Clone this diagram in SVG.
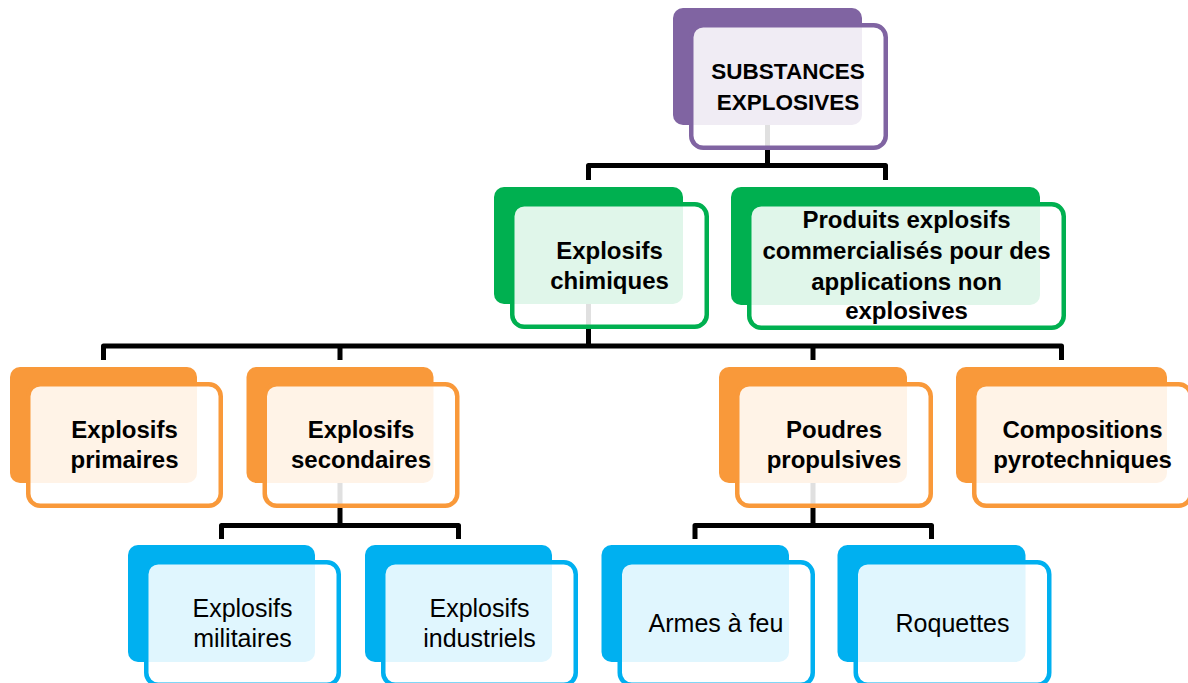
<svg xmlns="http://www.w3.org/2000/svg" width="1188" height="683" viewBox="0 0 1188 683">
<style>
  .conn { fill: none; stroke: #000; stroke-width: 5; stroke-linejoin: round; stroke-linecap: butt; }
  .back { rx: 10; ry: 10; }
  .frame { fill: #fff; fill-opacity: 0.88; stroke-width: 4.5; rx: 12; ry: 12; }
  .purple .back { fill: #8064A2; } .purple .frame { stroke: #8064A2; }
  .green .back { fill: #00B050; } .green .frame { stroke: #00B050; }
  .orange .back { fill: #F9993A; } .orange .frame { stroke: #F9993A; }
  .blue .back { fill: #00B0F0; } .blue .frame { stroke: #00B0F0; }
  text { font-family: "Liberation Sans", Arial, sans-serif; fill: #000; text-anchor: middle; }
  .b { font-weight: bold; font-size: 24px; }
  .r { font-weight: normal; font-size: 25px; }
</style>
<rect width="1188" height="683" fill="#fff"/>
<g id="connectors">
  <path class="conn" d="M767.5,125 V165.5 M588.5,180 V165.5 H885.5 V180"/>
  <path class="conn" d="M588.5,304 V346 M103.5,360 V346 H1061.5 V360 M340,346 V360 M813,346 V360"/>
  <path class="conn" d="M340,483 V525.5 M221.5,539 V525.5 H458.5 V539"/>
  <path class="conn" d="M813,483 V525.5 M695,539 V525.5 H931.5 V539"/>
</g>
<g id="n-root" class="purple">
  <rect class="back" x="673" y="8" width="189" height="117"/>
  <rect class="frame" x="691.25" y="25.25" width="194.5" height="122.5"/>
  <text class="b" style="font-size:22.5px" x="788" y="79">SUBSTANCES</text>
  <text class="b" style="font-size:22.5px" x="788" y="110">EXPLOSIVES</text>
</g>
<g id="n-chimiques" class="green">
  <rect class="back" x="494" y="187" width="189" height="117"/>
  <rect class="frame" x="512.25" y="204.25" width="194.5" height="122.5"/>
  <text class="b" x="609.5" y="259">Explosifs</text>
  <text class="b" x="609.5" y="289">chimiques</text>
</g>
<g id="n-produits" class="green">
  <rect class="back" x="731" y="187" width="309" height="118"/>
  <rect class="frame" x="749.25" y="204.25" width="314.5" height="123.5"/>
  <text class="b" x="906.5" y="228">Produits explosifs</text>
  <text class="b" x="906.5" y="259">commercialisés pour des</text>
  <text class="b" x="906.5" y="290">applications non</text>
  <text class="b" x="906.5" y="319">explosives</text>
</g>
<g id="n-primaires" class="orange">
  <rect class="back" x="10" y="367" width="187" height="116"/>
  <rect class="frame" x="28.25" y="384.25" width="192.5" height="121.5"/>
  <text class="b" x="124.5" y="438">Explosifs</text>
  <text class="b" x="124.5" y="468">primaires</text>
</g>
<g id="n-secondaires" class="orange">
  <rect class="back" x="246.5" y="367" width="187" height="116"/>
  <rect class="frame" x="264.75" y="384.25" width="192.5" height="121.5"/>
  <text class="b" x="361" y="438">Explosifs</text>
  <text class="b" x="361" y="468">secondaires</text>
</g>
<g id="n-poudres" class="orange">
  <rect class="back" x="719" y="367" width="188" height="116"/>
  <rect class="frame" x="737.25" y="384.25" width="193.5" height="121.5"/>
  <text class="b" x="834" y="438">Poudres</text>
  <text class="b" x="834" y="468">propulsives</text>
</g>
<g id="n-compositions" class="orange">
  <rect class="back" x="956" y="367" width="211" height="116"/>
  <rect class="frame" x="974.25" y="384.25" width="216.5" height="121.5"/>
  <text class="b" x="1082.5" y="438">Compositions</text>
  <text class="b" x="1082.5" y="468">pyrotechniques</text>
</g>
<g id="n-militaires" class="blue">
  <rect class="back" x="128" y="545" width="187" height="117"/>
  <rect class="frame" x="146.25" y="562.25" width="192.5" height="122.5"/>
  <text class="r" x="242.5" y="617">Explosifs</text>
  <text class="r" x="242.5" y="647">militaires</text>
</g>
<g id="n-industriels" class="blue">
  <rect class="back" x="365" y="545" width="187" height="117"/>
  <rect class="frame" x="383.25" y="562.25" width="192.5" height="122.5"/>
  <text class="r" x="479.5" y="617">Explosifs</text>
  <text class="r" x="479.5" y="647">industriels</text>
</g>
<g id="n-armes" class="blue">
  <rect class="back" x="601.5" y="545" width="187.5" height="117"/>
  <rect class="frame" x="619.75" y="562.25" width="193" height="122.5"/>
  <text class="r" x="716" y="632">Armes à feu</text>
</g>
<g id="n-roquettes" class="blue">
  <rect class="back" x="837.5" y="545" width="188" height="117"/>
  <rect class="frame" x="855.75" y="562.25" width="193.5" height="122.5"/>
  <text class="r" x="952.5" y="632">Roquettes</text>
</g>
</svg>
